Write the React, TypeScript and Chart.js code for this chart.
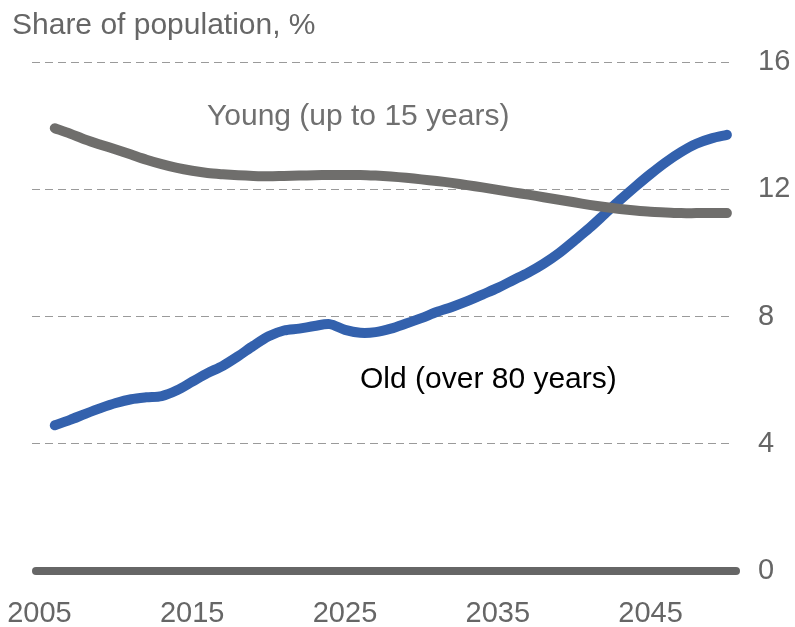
import React, { useEffect, useRef } from "react";
import { Chart, registerables } from "chart.js";

Chart.register(...registerables);

// Years covered by both series
const years: number[] = [
  2006, 2007, 2008, 2009, 2010, 2011, 2012, 2013, 2014, 2015,
  2016, 2017, 2018, 2019, 2020, 2021, 2022, 2023, 2024, 2025,
  2026, 2027, 2028, 2029, 2030, 2031, 2032, 2033, 2034, 2035,
  2036, 2037, 2038, 2039, 2040, 2041, 2042, 2043, 2044, 2045,
  2046, 2047, 2048, 2049, 2050,
];

// Young (up to 15 years), share of population, %
const youngShare: number[] = [
  13.92, 13.75, 13.56, 13.4, 13.25, 13.09, 12.93, 12.79, 12.67, 12.58,
  12.51, 12.47, 12.44, 12.42, 12.41, 12.42, 12.43, 12.44, 12.45, 12.45,
  12.45, 12.43, 12.4, 12.36, 12.31, 12.26, 12.2, 12.13, 12.06, 11.98,
  11.9, 11.83, 11.75, 11.67, 11.59, 11.51, 11.44, 11.38, 11.33, 11.29,
  11.27, 11.25, 11.25, 11.25, 11.25,
];

// Old (over 80 years), share of population, %
const oldShare: number[] = [
  4.58, 4.75, 4.94, 5.12, 5.28, 5.4, 5.46, 5.5, 5.68, 5.95,
  6.22, 6.45, 6.75, 7.08, 7.38, 7.56, 7.62, 7.7, 7.76, 7.58,
  7.49, 7.51, 7.62, 7.78, 7.95, 8.14, 8.3, 8.48, 8.69, 8.9,
  9.14, 9.38, 9.66, 9.99, 10.38, 10.78, 11.22, 11.66, 12.08, 12.48,
  12.85, 13.17, 13.43, 13.6, 13.71,
];

const xTickYears: number[] = [2005, 2015, 2025, 2035, 2045];
const yTicks: number[] = [0, 4, 8, 12, 16];

const titleText = "Share of population, %";
const youngLabel = "Young (up to 15 years)";
const oldLabel = "Old (over 80 years)";

const FONT = "'Liberation Sans', Arial, Helvetica, sans-serif";
const GRAY_TEXT = "#666666";

// Thick baseline at zero, right-hand value labels and the free-standing text labels
const annotations = {
  id: "annotations",
  beforeDatasetsDraw(chart: any) {
    const { ctx, chartArea, scales } = chart;
    const y0 = scales.y.getPixelForValue(0);
    ctx.save();
    ctx.strokeStyle = "#666666";
    ctx.lineWidth = 8;
    ctx.lineCap = "round";
    ctx.beginPath();
    ctx.moveTo(chartArea.left + 4, y0);
    ctx.lineTo(chartArea.right + 3, y0);
    ctx.stroke();
    ctx.restore();
  },
  afterDraw(chart: any) {
    const { ctx, chartArea, scales } = chart;
    ctx.save();
    // value axis labels, left-aligned next to the plot
    ctx.font = `29px ${FONT}`;
    ctx.fillStyle = GRAY_TEXT;
    ctx.textAlign = "left";
    ctx.textBaseline = "middle";
    yTicks.forEach((v) => {
      ctx.fillText(String(v), chartArea.right + 25, scales.y.getPixelForValue(v));
    });

    ctx.textBaseline = "alphabetic";
    ctx.font = `30px ${FONT}`;
    ctx.fillStyle = GRAY_TEXT;
    ctx.fillText(titleText, 12, 34);
    ctx.fillStyle = "#707070";
    ctx.fillText(youngLabel, 207, 125);
    ctx.fillStyle = "#000000";
    ctx.fillText(oldLabel, 360, 388);
    ctx.restore();
  },
};

export default function App() {
  const canvasRef = useRef<HTMLCanvasElement | null>(null);

  useEffect(() => {
    const canvas = canvasRef.current;
    if (!canvas) return;
    const chart = new Chart(canvas, {
      type: "line",
      data: {
        datasets: [
          {
            label: youngLabel,
            data: years.map((yr, i) => ({ x: yr, y: youngShare[i] })),
            borderColor: "#6f6e6c",
            borderWidth: 10,
            borderCapStyle: "round",
            borderJoinStyle: "round",
            pointRadius: 0,
            tension: 0.3,
            fill: false,
          },
          {
            label: oldLabel,
            data: years.map((yr, i) => ({ x: yr, y: oldShare[i] })),
            borderColor: "#3361ad",
            borderWidth: 10,
            borderCapStyle: "round",
            borderJoinStyle: "round",
            pointRadius: 0,
            tension: 0.3,
            fill: false,
          },
        ],
      },
      options: {
        responsive: false,
        animation: false,
        devicePixelRatio: 1,
        layout: { padding: { left: 32, top: 62, right: 0, bottom: 0 } },
        plugins: {
          legend: { display: false },
          title: { display: false },
          tooltip: { enabled: false },
        },
        scales: {
          x: {
            type: "linear",
            min: 2004.51,
            max: 2050.4,
            afterBuildTicks: (scale: any) => {
              scale.ticks = xTickYears.map((v) => ({ value: v }));
            },
            afterFit: (scale: any) => {
              scale.height = 56;
              scale.paddingLeft = 0;
              scale.paddingRight = 0;
            },
            grid: { display: false, drawTicks: false },
            border: { display: false },
            ticks: {
              autoSkip: false,
              maxRotation: 0,
              padding: 26,
              color: GRAY_TEXT,
              font: { family: FONT, size: 29 },
              callback: (v: any) => String(v),
            },
          },
          y: {
            position: "right",
            min: 0,
            max: 16,
            afterBuildTicks: (scale: any) => {
              scale.ticks = yTicks.map((v) => ({ value: v }));
            },
            afterFit: (scale: any) => {
              scale.width = 62;
              scale.paddingTop = 0;
              scale.paddingBottom = 0;
            },
            grid: {
              drawTicks: false,
              lineWidth: 1,
              color: (c: any) => (c.tick && c.tick.value === 0 ? "rgba(0,0,0,0)" : "#9a9a9a"),
            },
            border: { display: false, dash: [8, 5] },
            ticks: { display: false },
          },
        },
      },
      plugins: [annotations],
    });
    return () => chart.destroy();
  }, []);

  return (
    <div style={{ position: "fixed", left: 0, top: 0, width: 795, height: 627, background: "#ffffff" }}>
      <canvas ref={canvasRef} width={795} height={627} />
    </div>
  );
}
